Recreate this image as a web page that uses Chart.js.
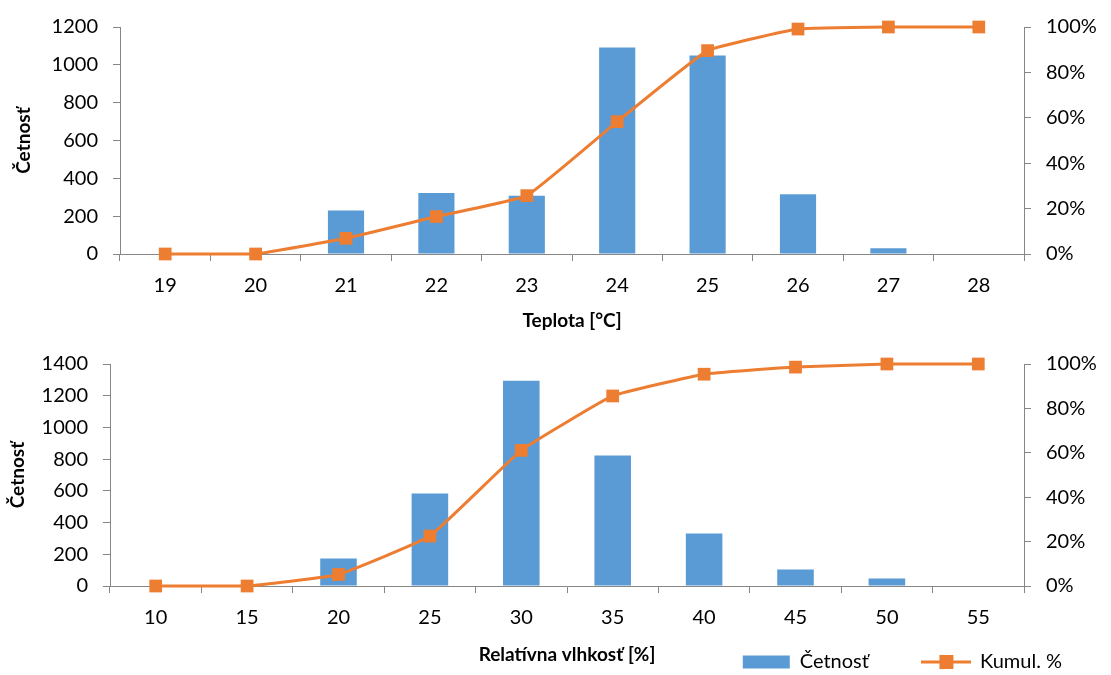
<!DOCTYPE html>
<html>
<head>
<meta charset="utf-8">
<script src="https://cdn.jsdelivr.net/npm/chart.js@4.4.1/dist/chart.umd.min.js"></script>
<style>
  html, body { margin: 0; padding: 0; background: #ffffff; width: 1111px; height: 675px; overflow: hidden; }
  .box { position: absolute; left: 0; width: 1111px; overflow: hidden; }
  #top { top: 0; height: 337px; }
  #bot { top: 337px; height: 338px; }
</style>
</head>
<body>
<div class="box" id="top"><canvas id="c1" width="1111" height="337"></canvas></div>
<div class="box" id="bot"><canvas id="c2" width="1111" height="413"></canvas></div>
<script>
// ---- data ----
const tempCategories = ['19', '20', '21', '22', '23', '24', '25', '26', '27', '28'];
const tempCounts = [0, 0, 230, 323, 308, 1091, 1050, 316, 31, 0];
const tempCumul = [0, 0, 6.9, 16.5, 25.7, 58.3, 89.6, 99.1, 100, 100];

const humCategories = ['10', '15', '20', '25', '30', '35', '40', '45', '50', '55'];
const humCounts = [0, 0, 173, 583, 1294, 823, 331, 104, 47, 0];
const humCumul = [0, 0, 5.2, 22.5, 61.1, 85.6, 95.4, 98.6, 100, 100];

const seriesNames = ['Četnosť', 'Kumul. %'];
const yTitle = 'Četnosť';
const tempTitle = 'Teplota [°C]';
const humTitle = 'Relatívna vlhkosť [%]';

// ---- style ----
const BLUE = '#5B9BD5';
const ORANGE = '#ED7D31';
const AXIS = '#868686';
const FONT = 'Lato, "Open Sans", "DejaVu Sans", sans-serif';

Chart.defaults.font.family = FONT;
Chart.defaults.color = '#000000';

function legendLineSymbol() {
  const c = document.createElement('canvas');
  c.width = 50; c.height = 16;
  const g = c.getContext('2d');
  g.strokeStyle = ORANGE; g.lineWidth = 3;
  g.beginPath(); g.moveTo(0, 8); g.lineTo(50, 8); g.stroke();
  g.fillStyle = ORANGE;
  g.fillRect(25 - 7, 8 - 7, 14, 14);
  return c;
}

// moves the legend box so it sits on the same row as the x-axis title
const legendShift = {
  id: 'legendShift',
  afterLayout(chart, args, opts) {
    const lg = chart.legend;
    if (!lg) return;
    lg.top += opts.dy; lg.bottom += opts.dy;
    lg.left += opts.dx; lg.right += opts.dx;
  }
};

function makeChart(canvasId, cats, counts, cumul, yMax, xTitle, L) {
  const tickFont = { family: FONT, size: 20 };
  const titleFont = { family: FONT, size: 19, weight: 'bold' };
  const gridCfg = { display: true, drawOnChartArea: false, drawTicks: true, tickLength: 7, color: AXIS, lineWidth: 1 };
  return new Chart(document.getElementById(canvasId), {
    plugins: L.legend ? [legendShift] : [],
    data: {
      labels: cats,
      datasets: [
        {
          type: 'line',
          label: seriesNames[1],
          data: cumul,
          yAxisID: 'y1',
          borderColor: ORANGE,
          backgroundColor: ORANGE,
          borderWidth: 3,
          tension: 0.1,
          clip: false,
          pointStyle: 'rect',
          pointRadius: 9,
          pointBackgroundColor: ORANGE,
          pointBorderColor: ORANGE,
          pointBorderWidth: 0,
          order: 0
        },
        {
          type: 'bar',
          label: seriesNames[0],
          data: counts,
          yAxisID: 'y',
          backgroundColor: BLUE,
          borderWidth: 0,
          categoryPercentage: 1.0,
          barPercentage: 0.4,
          order: 1
        }
      ]
    },
    options: {
      responsive: false,
      devicePixelRatio: 1,
      animation: false,
      layout: { padding: { top: L.padTop, left: 0, right: 0, bottom: 0 } },
      plugins: {
        tooltip: { enabled: false },
        legendShift: { dx: L.legendDx || 0, dy: L.legendDy || 0 },
        legend: {
          display: L.legend,
          position: 'bottom',
          align: 'end',
          labels: {
            font: { family: FONT, size: 20 },
            color: '#000000',
            usePointStyle: true,
            pointStyleWidth: 47,
            boxHeight: 13,
            padding: L.legendPad,
            generateLabels: (chart) => {
              const items = Chart.defaults.plugins.legend.labels.generateLabels(chart);
              items.forEach(it => {
                if (it.datasetIndex === 0) { it.pointStyle = legendLineSymbol(); }
                else { it.pointStyle = 'rect'; it.lineWidth = 0; }
              });
              items.sort((a, b) => b.datasetIndex - a.datasetIndex);
              return items;
            }
          }
        }
      },
      scales: {
        x: {
          type: 'category',
          offset: true,
          grid: Object.assign({}, gridCfg, { offset: true }),
          border: { display: true, color: AXIS, width: 1 },
          ticks: { font: tickFont, padding: 13, maxRotation: 0, autoSkip: false },
          title: { display: true, text: xTitle, font: titleFont, padding: { top: 0, bottom: L.xTitlePadBottom } },
          afterFit: (s) => { s.height = L.xHeight; }
        },
        y: {
          type: 'linear',
          position: 'left',
          min: 0, max: yMax,
          ticks: { stepSize: 200, font: tickFont, padding: 15, callback: (v) => String(v) },
          grid: gridCfg,
          border: { display: true, color: AXIS, width: 1 },
          title: { display: true, text: yTitle, font: titleFont, padding: { top: L.yTitlePad, bottom: 0 } },
          afterFit: (s) => { s.width = L.leftW; }
        },
        y1: {
          type: 'linear',
          position: 'right',
          min: 0, max: 100,
          ticks: { stepSize: 20, font: tickFont, padding: 15, callback: (v) => v + '%' },
          grid: gridCfg,
          border: { display: true, color: AXIS, width: 1 },
          afterFit: (s) => { s.width = L.rightW; }
        }
      }
    }
  });
}

// top chart: plot area x 120..1024, y 19..254 (canvas 337 tall)
makeChart('c1', tempCategories, tempCounts, tempCumul, 1200, tempTitle, {
  padTop: 19, legend: false, legendPad: 10,
  xHeight: 83, xTitlePadBottom: 4.6, yTitlePad: 12, leftW: 120, rightW: 87
});

// bottom chart: plot area x 110..1024, y 27..249 in canvas (clipped to 338 visible)
const legendPad = 54;
const botPlotBottom = 249;
const botXHeight = 80;
const legendHeight = 20 + legendPad + 10;
document.getElementById('c2').height = botPlotBottom + botXHeight + legendHeight;
const legendCenter = 325;
makeChart('c2', humCategories, humCounts, humCumul, 1400, humTitle, {
  padTop: 27, legend: true, legendPad: legendPad,
  legendDx: 5, legendDy: (legendCenter - 10 - legendPad) - (botPlotBottom + botXHeight),
  xHeight: botXHeight, xTitlePadBottom: (botPlotBottom + botXHeight) - 11.4 - 318, yTitlePad: 6, leftW: 110, rightW: 87
});
</script>
</body>
</html>
